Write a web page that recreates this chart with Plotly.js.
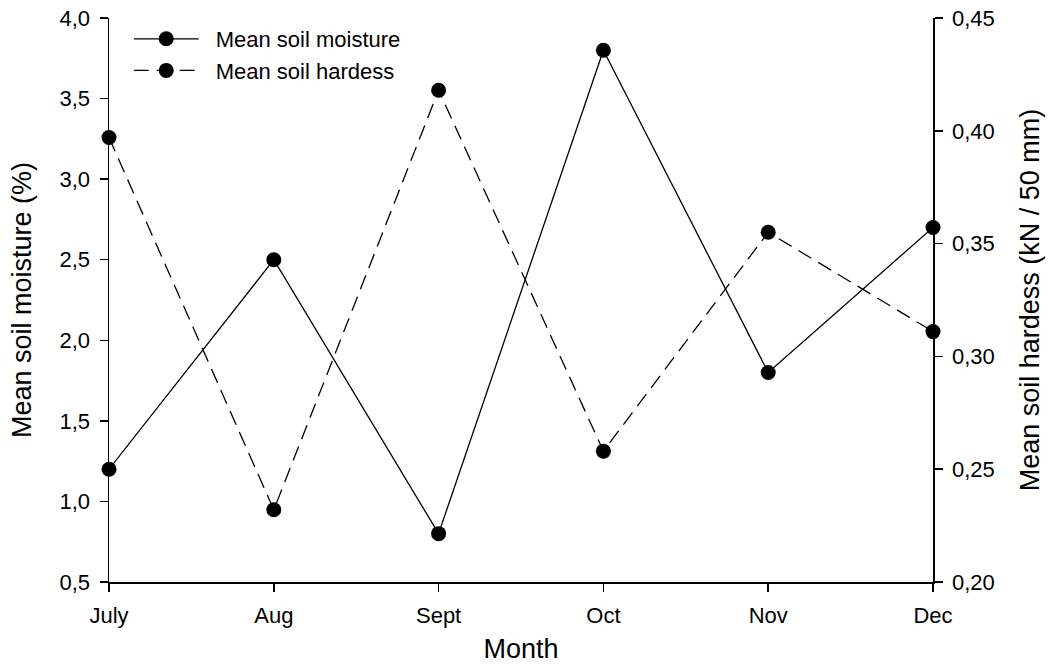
<!DOCTYPE html>
<html>
<head>
<meta charset="utf-8">
<script src="https://cdn.plot.ly/plotly-3.0.1.min.js"></script>
<style>
  html, body { margin: 0; padding: 0; background: #fff; }
  #chart { width: 1052px; height: 664px; }
</style>
</head>
<body>
<div id="chart"></div>
<script>
// Monthly soil measurements
const months = ['July', 'Aug', 'Sept', 'Oct', 'Nov', 'Dec'];
const moisture = [1.2, 2.5, 0.8, 3.8, 1.8, 2.7];             // %
const hardness = [0.397, 0.232, 0.418, 0.258, 0.355, 0.311]; // kN / 50 mm

const leftTicks = [0.5, 1.0, 1.5, 2.0, 2.5, 3.0, 3.5, 4.0];
const rightTicks = [0.20, 0.25, 0.30, 0.35, 0.40, 0.45];

const font = 'Liberation Sans, Arial, sans-serif';
const tickFont = { family: font, size: 22, color: '#000' };
const titleFont = { family: font, size: 27, color: '#000' };

const traces = [
  {
    x: months, y: moisture, name: 'Mean soil moisture',
    type: 'scatter', mode: 'lines+markers', yaxis: 'y',
    line: { color: '#000', width: 1.3 },
    marker: { color: '#000', size: 15, symbol: 'circle' },
    cliponaxis: false
  },
  {
    x: months, y: hardness, name: 'Mean soil hardess',
    type: 'scatter', mode: 'lines+markers', yaxis: 'y2',
    line: { color: '#000', width: 1.3, dash: '15px,8px' },
    marker: { color: '#000', size: 15, symbol: 'circle' },
    cliponaxis: false
  }
];

const axisStyle = {
  showline: true, linecolor: '#000', linewidth: 1.5,
  ticks: 'outside', ticklen: 8, tickwidth: 1.5, tickcolor: '#000',
  ticklabelstandoff: 5,
  showgrid: false, zeroline: false, tickfont: tickFont
};

const layout = {
  width: 1052, height: 664,
  margin: { l: 109, r: 119, t: 18, b: 82 },
  paper_bgcolor: '#fff', plot_bgcolor: '#fff',
  separators: ', ',
  font: { family: font, size: 20, color: '#000' },
  showlegend: true,
  legend: {
    x: 0.03, y: 1.0, xanchor: 'left', yanchor: 'top',
    bgcolor: 'rgba(0,0,0,0)', font: { family: font, size: 22, color: '#000' },
    traceorder: 'normal', itemwidth: 72, tracegroupgap: 0
  },
  xaxis: Object.assign({}, axisStyle, {
    type: 'category', range: [0, 5],
    title: { text: 'Month', font: titleFont, standoff: 14 }
  }),
  yaxis: Object.assign({}, axisStyle, {
    range: [0.5, 4.0], tickvals: leftTicks, tickformat: '.1f',
    title: { text: 'Mean soil moisture (%)', font: titleFont, standoff: 20 }
  }),
  yaxis2: Object.assign({}, axisStyle, {
    overlaying: 'y', side: 'right',
    range: [0.20, 0.45], tickvals: rightTicks, tickformat: '.2f',
    title: { text: 'Mean soil hardess (kN / 50 mm)', font: titleFont, standoff: 26 }
  })
};

Plotly.newPlot('chart', traces, layout, { staticPlot: true, displayModeBar: false }).then(gd => {
  // Lengthen the legend line samples and centre the marker on them
  gd.querySelectorAll('.legend .legendlines path').forEach(p => p.setAttribute('d', 'M0,0h65'));
  gd.querySelectorAll('.legend .legendpoints path').forEach(p => p.setAttribute('transform', 'translate(32.5,0)'));
});
</script>
</body>
</html>
